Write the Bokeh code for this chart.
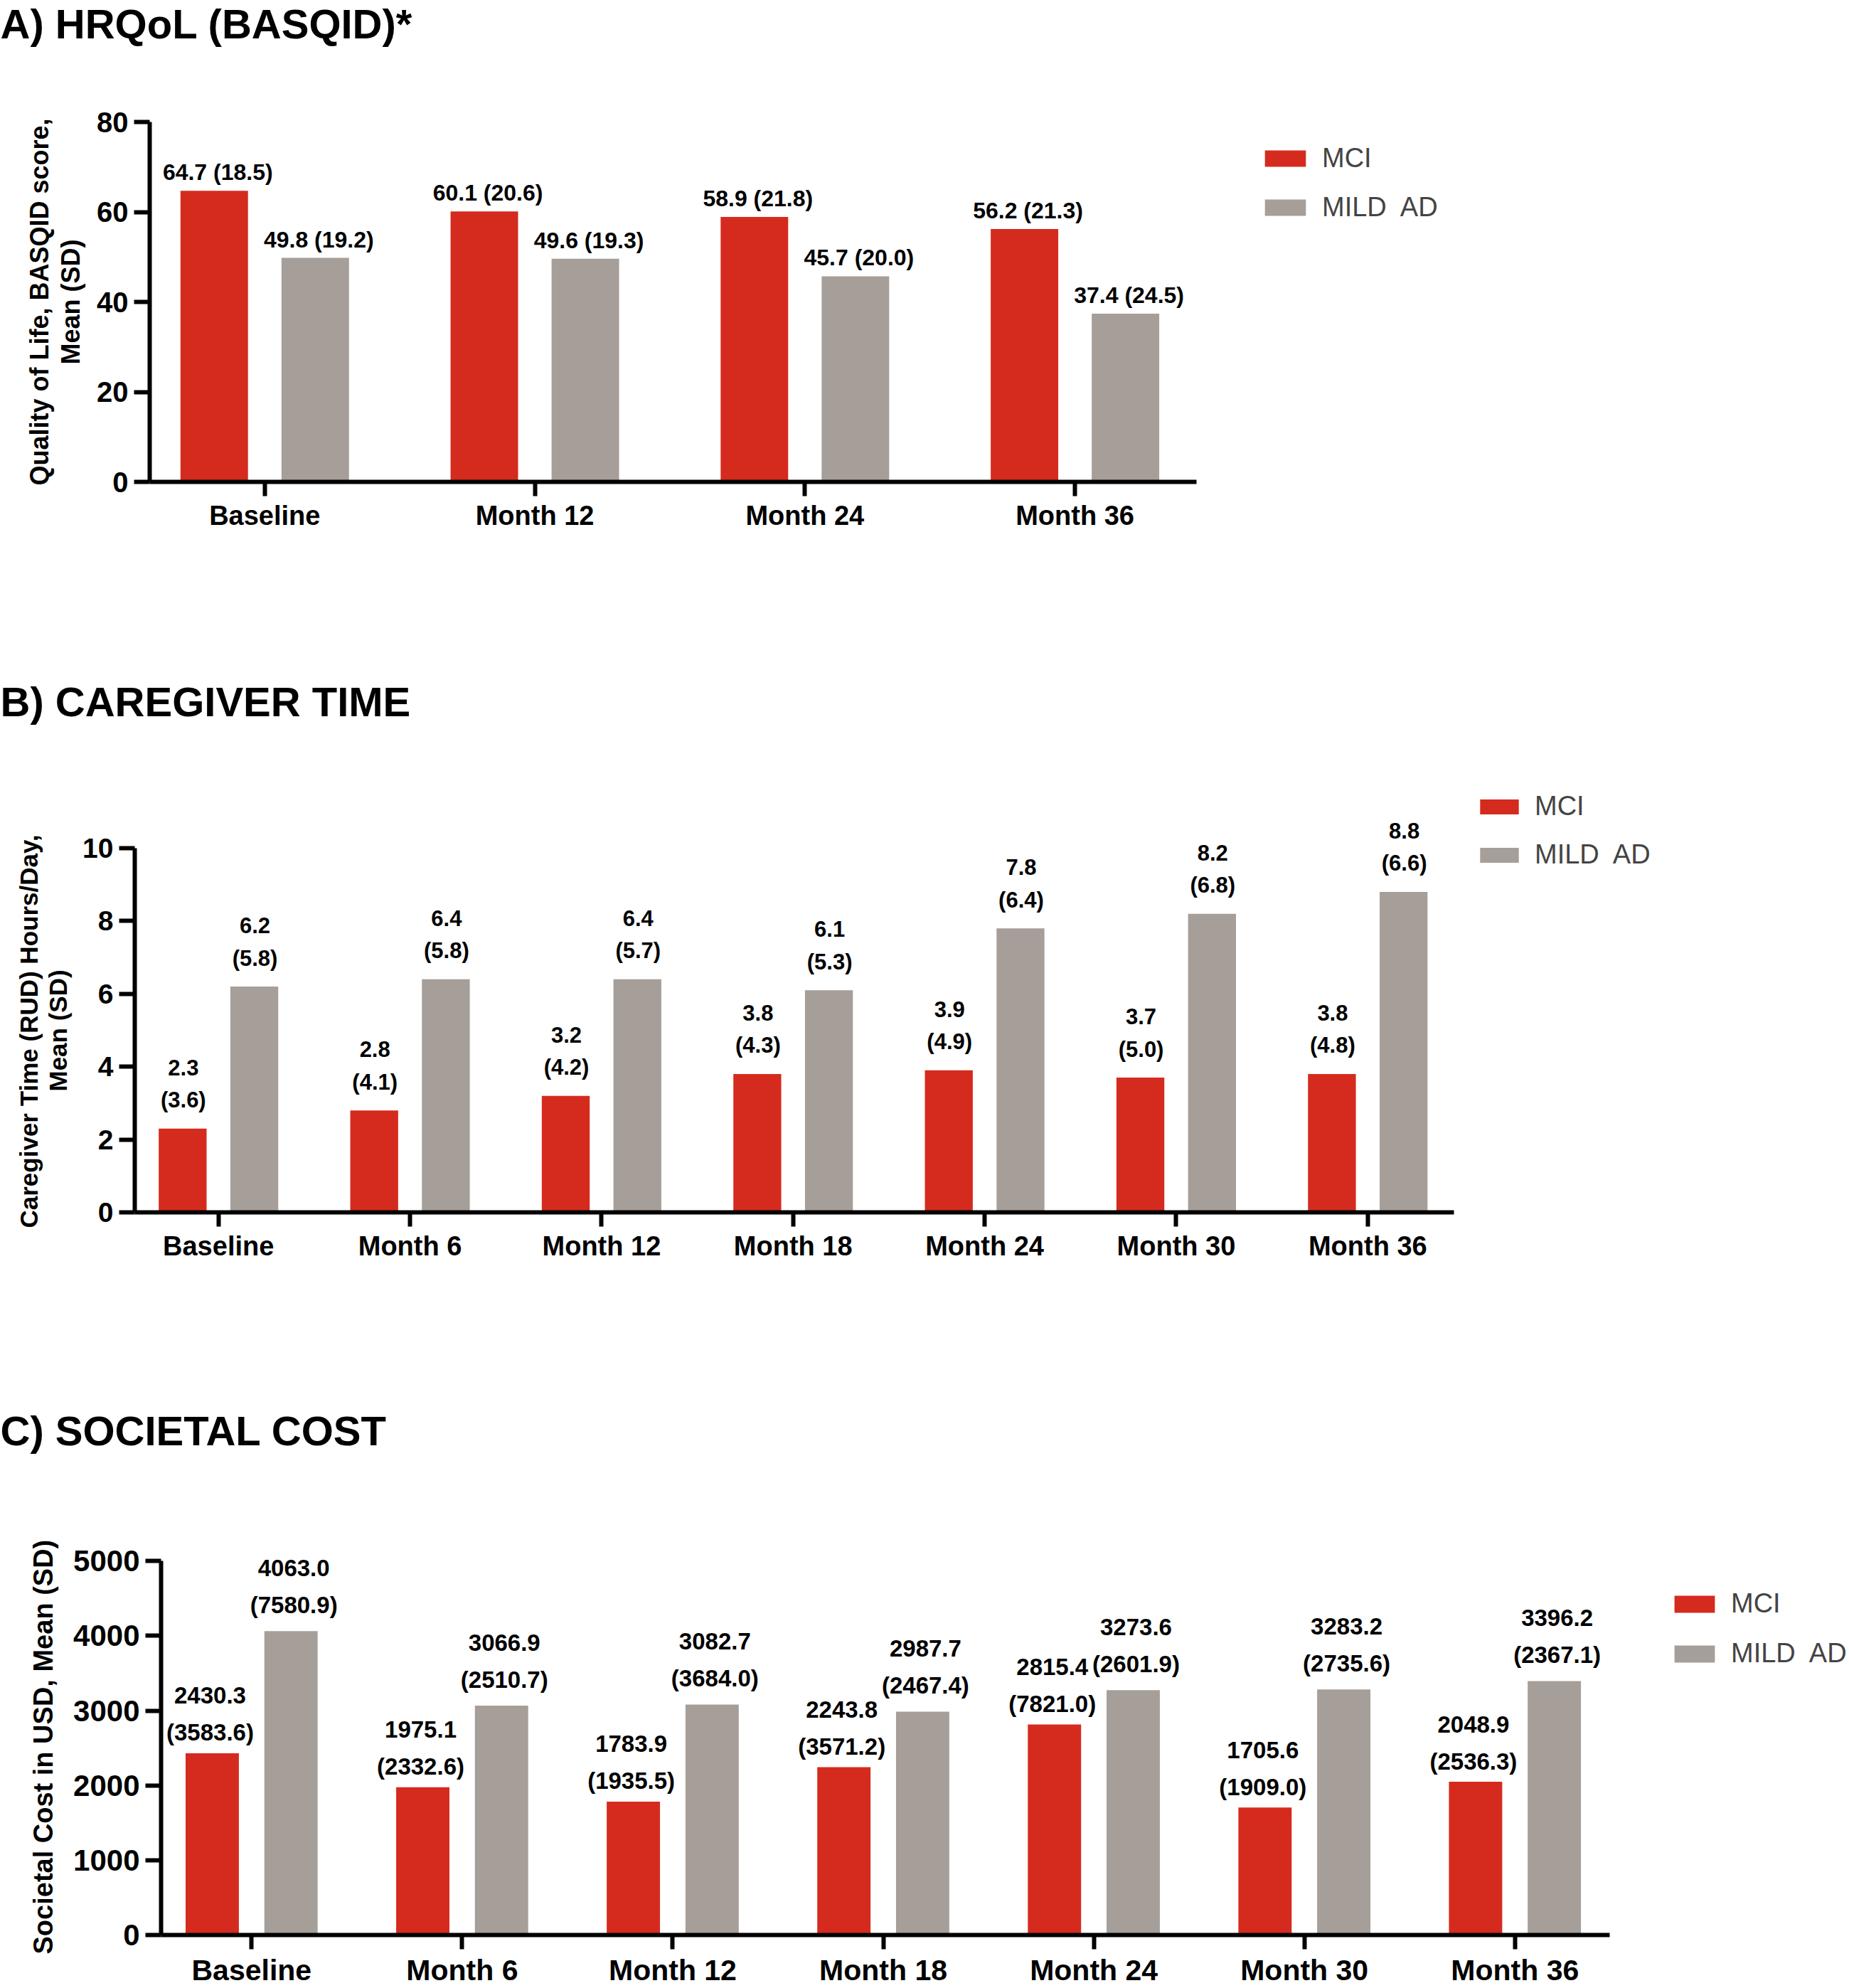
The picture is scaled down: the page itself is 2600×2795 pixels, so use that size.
from bokeh.plotting import figure
from bokeh.models import Range1d, FixedTicker, LabelSet, ColumnDataSource, Legend, LegendItem, Title
from bokeh.transform import dodge
from bokeh.core.properties import value
from bokeh.embed import file_html
from bokeh.resources import INLINE

RED = "#D52B1E"
GRAY = "#A69E98"
FONT = "Liberation Sans"

# ---------------- data ----------------
a_cats = ["Baseline", "Month 12", "Month 24", "Month 36"]
a_mci = [64.7, 60.1, 58.9, 56.2]
a_mci_sd = [18.5, 20.6, 21.8, 21.3]
a_ad = [49.8, 49.6, 45.7, 37.4]
a_ad_sd = [19.2, 19.3, 20.0, 24.5]
a_yticks = [0, 20, 40, 60, 80]
a_ylabel = ["Quality of Life, BASQID score,", "Mean (SD)"]

b_cats = ["Baseline", "Month 6", "Month 12", "Month 18", "Month 24", "Month 30", "Month 36"]
b_mci = [2.3, 2.8, 3.2, 3.8, 3.9, 3.7, 3.8]
b_mci_sd = [3.6, 4.1, 4.2, 4.3, 4.9, 5.0, 4.8]
b_ad = [6.2, 6.4, 6.4, 6.1, 7.8, 8.2, 8.8]
b_ad_sd = [5.8, 5.8, 5.7, 5.3, 6.4, 6.8, 6.6]
b_yticks = [0, 2, 4, 6, 8, 10]
b_ylabel = ["Caregiver Time (RUD) Hours/Day,", "Mean (SD)"]

c_cats = ["Baseline", "Month 6", "Month 12", "Month 18", "Month 24", "Month 30", "Month 36"]
c_mci = [2430.3, 1975.1, 1783.9, 2243.8, 2815.4, 1705.6, 2048.9]
c_mci_sd = [3583.6, 2332.6, 1935.5, 3571.2, 7821.0, 1909.0, 2536.3]
c_ad = [4063.0, 3066.9, 3082.7, 2987.7, 3273.6, 3283.2, 3396.2]
c_ad_sd = [7580.9, 2510.7, 3684.0, 2467.4, 2601.9, 2735.6, 2367.1]
c_yticks = [0, 1000, 2000, 3000, 4000, 5000]
c_ylabel = ["Societal Cost in USD, Mean (SD)"]

legend_labels = ["MCI", "MILD  AD"]


def make_panel(title, cats, mci, mci_sd, ad, ad_sd, yticks, ylabel, g):
    n = len(cats)
    src = ColumnDataSource(dict(
        idx=list(range(n)), mci=mci, ad=ad,
        mci_one=[f"{m:.1f} ({s:.1f})" for m, s in zip(mci, mci_sd)],
        ad_one=[f"{m:.1f} ({s:.1f})" for m, s in zip(ad, ad_sd)],
        mci_m=[f"{m:.1f}" for m in mci], mci_s=[f"({s:.1f})" for s in mci_sd],
        ad_m=[f"{m:.1f}" for m in ad], ad_s=[f"({s:.1f})" for s in ad_sd],
    ))
    # frame covers everything right of the y axis; axis lines limited with bounds
    x0 = -g["lpad"]
    x1 = n - 1 + g["rpad"]
    upp = (x1 - x0) / (g["right"] - g["left"])
    x_end = x0 + (2600 - g["left"]) * upp
    ytop = yticks[-1]
    y_end = ytop * (g["bottom"] - g["ftop"]) / (g["bottom"] - g["top"])

    p = figure(width=2600, height=g["h"], output_backend="svg", toolbar_location=None,
               x_range=Range1d(x0, x_end), y_range=Range1d(0, y_end),
               min_border_left=g["left"], min_border_right=0,
               min_border_top=g["ftop"], min_border_bottom=g["h"] - g["bottom"])
    p.add_layout(Title(text=title, align="left", offset=-g["left"], standoff=g["tstand"],
                       text_font=FONT, text_font_size="58px", text_font_style="bold",
                       text_color="black"), "above")
    # y axis title lines (closest to the axis first)
    for txt, offs, stand in reversed(list(zip(ylabel, g["al_off"], g["al_stand"]))):
        p.add_layout(Title(text=txt, align="left", offset=offs, standoff=stand,
                           vertical_align="bottom", text_font=FONT,
                           text_font_size=g["alsize"], text_font_style="bold",
                           text_color="black"), "left")
    p.outline_line_color = None
    p.grid.visible = False

    off = g["off"]
    w = g["bw"]
    r1 = p.vbar(x=dodge("idx", -off, range=p.x_range), top="mci", width=w, source=src,
                fill_color=RED, line_color=None)
    r2 = p.vbar(x=dodge("idx", off, range=p.x_range), top="ad", width=w, source=src,
                fill_color=GRAY, line_color=None)

    lab = dict(source=src, text_align="center", text_baseline="middle",
               text_font=value(FONT), text_font_style="bold",
               text_font_size=g["lsize"], text_color="black")
    series = (("mci", "mci_one", "mci_m", "mci_s", -off, g["lx"][0], g["l1"][0]),
              ("ad", "ad_one", "ad_m", "ad_s", off, g["lx"][1], g["l1"][1]))
    for col_y, one, m, s, o, lx, l1 in series:
        xs = dodge("idx", o, range=p.x_range)
        if g["oneline"]:
            p.add_layout(LabelSet(x=xs, y=col_y, text=one, x_offset=lx, y_offset=l1, **lab))
        else:
            p.add_layout(LabelSet(x=xs, y=col_y, text=s, x_offset=lx, y_offset=l1, **lab))
            p.add_layout(LabelSet(x=xs, y=col_y, text=m, x_offset=lx,
                                  y_offset=l1 + g["lsp"], **lab))

    xa = p.xaxis[0]
    xa.bounds = (x0, x1)
    xa.ticker = FixedTicker(ticks=list(range(n)))
    xa.major_label_overrides = {i: c for i, c in enumerate(cats)}
    xa.axis_line_width = 6
    xa.major_tick_line_width = 6
    xa.major_tick_out = 20
    xa.major_tick_in = 0
    xa.minor_tick_out = 0
    xa.minor_tick_in = 0
    xa.major_label_standoff = 6
    xa.major_label_text_font = FONT
    xa.major_label_text_font_style = "bold"
    xa.major_label_text_font_size = g["xsize"]
    xa.major_label_text_color = "black"

    ya = p.yaxis[0]
    ya.bounds = (0, ytop)
    ya.ticker = FixedTicker(ticks=yticks)
    ya.axis_line_width = 6
    ya.major_tick_line_width = 6
    ya.major_tick_out = 22
    ya.major_tick_in = 0
    ya.minor_tick_out = 0
    ya.minor_tick_in = 0
    ya.major_label_standoff = 8
    ya.major_label_text_font = FONT
    ya.major_label_text_font_style = "bold"
    ya.major_label_text_font_size = g["ysize"]
    ya.major_label_text_color = "black"

    legend = Legend(items=[LegendItem(label=legend_labels[0], renderers=[r1]),
                           LegendItem(label=legend_labels[1], renderers=[r2])],
                    location=g["legloc"], glyph_width=g["gw"], glyph_height=g["gh"],
                    label_height=g["gh"], spacing=g["gsp"], padding=0, margin=0,
                    border_line_color=None, background_fill_alpha=0,
                    label_text_font=FONT, label_text_font_size="38px",
                    label_standoff=16)
    p.add_layout(legend)
    return p


pa = make_panel("A) HRQoL (BASQID)*", a_cats, a_mci, a_mci_sd, a_ad, a_ad_sd, a_yticks, a_ylabel,
                dict(h=900, left=210, right=1682, top=171, bottom=677, ftop=60, tstand=-10,
                     lpad=0.426, rpad=0.45, off=0.187, bw=0.25,
                     lsize="32px", lx=(5, 5), oneline=True, l1=(26, 26), lsp=0,
                     xsize="38px", ysize="40px",
                     alsize="36px", al_off=[-5, 165], al_stand=[-26, 28],
                     legloc=(1561, 364), gw=72, gh=29, gsp=26))

pb = make_panel("B) CAREGIVER TIME", b_cats, b_mci, b_mci_sd, b_ad, b_ad_sd, b_yticks, b_ylabel,
                dict(h=1000, left=189, right=2044, top=292, bottom=804, ftop=118, tstand=0,
                     lpad=0.437, rpad=0.45, off=0.187, bw=0.25,
                     lsize="31px", lx=(1, 1), oneline=False, l1=(40, 40), lsp=46,
                     xsize="38px", ysize="39px",
                     alsize="35px", al_off=[-22, 170], al_stand=[-25, 25],
                     legloc=(1885, 481), gw=68, gh=26, gsp=25))

pc = make_panel("C) SOCIETAL COST", c_cats, c_mci, c_mci_sd, c_ad, c_ad_sd, c_yticks, c_ylabel,
                dict(h=895, left=226, right=2263, top=295, bottom=823, ftop=143, tstand=0,
                     lpad=0.43, rpad=0.45, off=0.187, bw=0.253,
                     lsize="33px", lx=(-3, 4), oneline=False, l1=(29, 37), lsp=52,
                     xsize="41px", ysize="42px",
                     alsize="38px", al_off=[-27], al_stand=[38],
                     legloc=(2121, 374), gw=71, gh=30, gsp=27))

open("out.html", "w").write(file_html([pa, pb, pc], INLINE))
